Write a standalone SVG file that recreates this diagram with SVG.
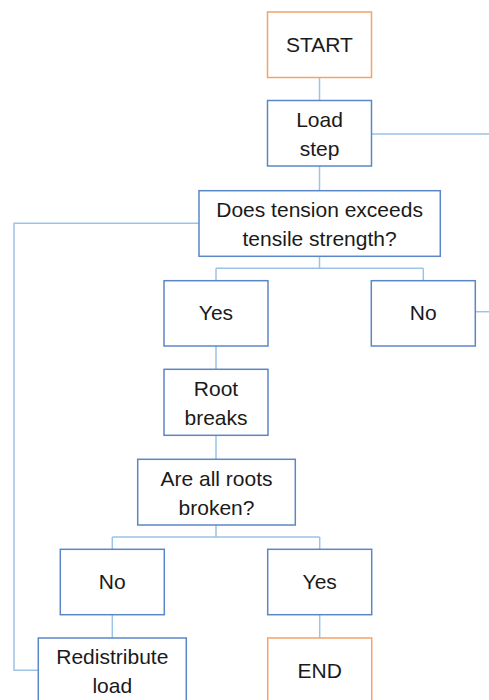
<svg xmlns="http://www.w3.org/2000/svg" width="489" height="700" viewBox="0 0 489 700">
<style>
.b{fill:#fff;stroke:#5b87c8;stroke-width:1.5}
.o{fill:#fff;stroke:#f4a26a;stroke-width:1.5}
.c{fill:none;stroke:#9dc3e6;stroke-width:1.5}
text{font-family:"Liberation Sans",Arial,sans-serif;font-size:21px;fill:#1a1a1a;text-anchor:middle}
</style>
<rect width="489" height="700" fill="#fff"/>
<g id="connectors">
<path class="c" d="M319.5 77.5V100.5"/>
<path class="c" d="M371.5 134H489"/>
<path class="c" d="M319.5 166V190.7"/>
<path class="c" d="M199 223.3H14V670.3H38.3"/>
<path class="c" d="M319.5 256.3V268.3M216 268.3H423.3M216 268.3V280.7M423.3 268.3V280.7"/>
<path class="c" d="M475.3 311.7H489"/>
<path class="c" d="M216 346V369.3"/>
<path class="c" d="M216 435.3V459.3"/>
<path class="c" d="M216 525V537M112.3 537H319.7M112.3 537V549.3M319.7 537V549.3"/>
<path class="c" d="M112.3 614.7V638"/>
<path class="c" d="M319.7 614.7V638"/>
</g>
<g id="start"><rect class="o" x="267.5" y="12" width="104" height="65.5"/><text x="319.5" y="52">START</text></g>
<g id="load-step"><rect class="b" x="267.5" y="100.5" width="104" height="65.5"/><text x="319.5" y="126.5">Load</text><text x="319.5" y="155.5">step</text></g>
<g id="tension"><rect class="b" x="199" y="190.7" width="241.3" height="65.6"/><text x="319.6" y="216.5">Does tension exceeds</text><text x="319.6" y="246">tensile strength?</text></g>
<g id="yes1"><rect class="b" x="164" y="280.7" width="104" height="65.3"/><text x="216" y="320">Yes</text></g>
<g id="no1"><rect class="b" x="371.3" y="280.7" width="104" height="65.3"/><text x="423.3" y="320">No</text></g>
<g id="root-breaks"><rect class="b" x="164" y="369.3" width="104" height="66"/><text x="216" y="395.5">Root</text><text x="216" y="424.5">breaks</text></g>
<g id="all-broken"><rect class="b" x="137.7" y="459.3" width="157.6" height="65.7"/><text x="216.5" y="485.5">Are all roots</text><text x="216.5" y="514.5">broken?</text></g>
<g id="no2"><rect class="b" x="60.3" y="549.3" width="104" height="65.4"/><text x="112.3" y="588.5">No</text></g>
<g id="yes2"><rect class="b" x="267.7" y="549.3" width="104" height="65.4"/><text x="319.7" y="588.5">Yes</text></g>
<g id="redistribute"><rect class="b" x="38.3" y="638" width="148" height="70"/><text x="112.3" y="664">Redistribute</text><text x="112.3" y="693">load</text></g>
<g id="end"><rect class="o" x="267.7" y="638" width="104" height="70"/><text x="319.7" y="678">END</text></g>
</svg>
